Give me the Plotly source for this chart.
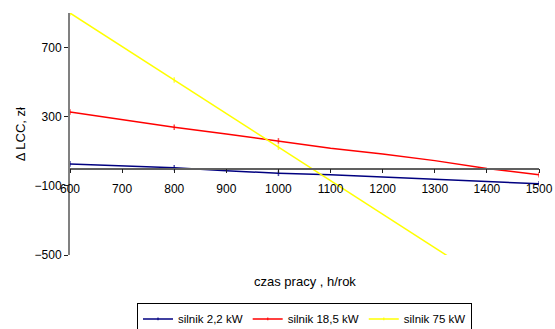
import plotly.graph_objects as go

hours = [600, 700, 800, 900, 1000, 1100, 1200, 1300, 1400, 1500]
s22 = [27, 17, 5, -13, -27, -36, -50, -62, -78, -88]
s185 = [327, 283, 239, 200, 160, 118, 84, 46, 0, -36]
s75 = [900, 706, 512, 318, 124, -70, -264, -458, -652, -846]
names = ["silnik 2,2 kW", "silnik 18,5 kW", "silnik 75 kW"]
colors = ["#000080", "#FF0000", "#FFFF00"]
y_ticks = [-500, -100, 300, 700]
x_ticks = [600, 700, 800, 900, 1000, 1100, 1200, 1300, 1400, 1500]
marked = [600, 800, 1000, 1500]

FONT = "Arial, Liberation Sans, sans-serif"

fig = go.Figure()
for name, vals, col in zip(names, [s22, s185, s75], colors):
    fig.add_trace(go.Scatter(
        x=hours, y=vals, name=name, mode="lines+markers",
        line=dict(color=col, width=1.5),
        marker=dict(color=col, symbol="line-ns", line=dict(color=col, width=1.5),
                    size=[4 if h in marked else 0 for h in hours]),
    ))

fig.update_layout(
    width=555, height=329,
    margin=dict(l=70, r=16, t=13, b=74, autoexpand=False),
    paper_bgcolor="white", plot_bgcolor="white",
    font=dict(family=FONT, size=12, color="black"),
    showlegend=True,
    legend=dict(orientation="h", x=0.5, xanchor="center", y=-0.2, yanchor="top",
                bordercolor="black", borderwidth=1, bgcolor="white",
                font=dict(size=11.5), itemwidth=30, tracegroupgap=0),
    xaxis=dict(range=[600, 1500], tickvals=x_ticks, showgrid=False, zeroline=False,
               showline=True, linecolor="#606060", linewidth=1.5,
               ticks="outside", ticklen=4, tickcolor="#202020",
               anchor="free", position=500 / 1400, ticklabelstandoff=5,
               tickfont=dict(size=12)),
    yaxis=dict(range=[-500, 900], tickvals=y_ticks, showgrid=False, zeroline=False,
               showline=True, linecolor="#808080", linewidth=2,
               ticks="outside", ticklen=4, tickcolor="#202020",
               tickfont=dict(size=12)),
    annotations=[
        dict(text="czas pracy , h/rok", xref="paper", yref="paper", x=0.5, y=-0.07,
             xanchor="center", yanchor="top", showarrow=False, font=dict(size=13)),
        dict(text="Δ LCC, zł", xref="paper", yref="paper", x=-0.106, y=0.5,
             xanchor="center", yanchor="middle", textangle=-90, showarrow=False,
             font=dict(size=13)),
    ],
)

fig.write_html("out.html")
